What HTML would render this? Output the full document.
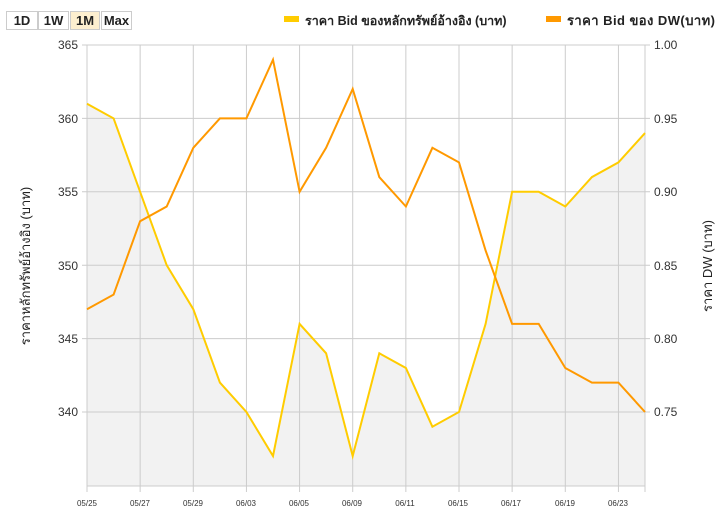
<!DOCTYPE html>
<html><head><meta charset="utf-8"><style>
body{margin:0;background:#fff;width:725px;height:515px;overflow:hidden;font-family:"Liberation Sans","Noto Sans CJK SC",sans-serif}
.btn{position:absolute;top:11px;height:17px;border:1px solid #ccc;background:#fff;font-size:13px;font-weight:bold;text-align:center;line-height:17px;color:#222}
</style></head><body>
<div class="btn" style="left:6px;width:30px">1D</div>
<div class="btn" style="left:38px;width:29px">1W</div>
<div class="btn" style="left:70px;width:28px;background:#fdefcf">1M</div>
<div class="btn" style="left:101px;width:29px">Max</div>
<svg id="s" width="725" height="515" style="position:absolute;left:0;top:0" font-family="Liberation Sans, Noto Sans CJK SC, sans-serif">
<rect x="284" y="16" width="15" height="6" fill="#fc0"/>
<text x="305" y="25" font-size="12.5" font-weight="bold" fill="#222">ราคา Bid ของหลักทรัพย์อ้างอิง (บาท)</text>
<rect x="546" y="16" width="15" height="6" fill="#f90"/>
<text x="567" y="25" font-size="13" font-weight="bold" fill="#222" textLength="148">ราคา Bid ของ DW(บาท)</text>
<g id="g"></g>
<g font-size="12" fill="#333" text-anchor="end">
<text x="78" y="49">365</text><text x="78" y="123">360</text><text x="78" y="196">355</text><text x="78" y="270">350</text><text x="78" y="343">345</text><text x="78" y="416">340</text>
</g>
<g font-size="12" fill="#333">
<text x="654" y="49">1.00</text><text x="654" y="123">0.95</text><text x="654" y="196">0.90</text><text x="654" y="270">0.85</text><text x="654" y="343">0.80</text><text x="654" y="416">0.75</text>
</g>
<g font-size="8" fill="#333" text-anchor="middle">
<text x="87" y="506">05/25</text><text x="140" y="506">05/27</text><text x="193" y="506">05/29</text><text x="246" y="506">06/03</text><text x="299" y="506">06/05</text><text x="352" y="506">06/09</text><text x="405" y="506">06/11</text><text x="458" y="506">06/15</text><text x="511" y="506">06/17</text><text x="565" y="506">06/19</text><text x="618" y="506">06/23</text>
</g>
<text transform="translate(30,266) rotate(-90)" font-size="13" fill="#222" text-anchor="middle">ราคาหลักทรัพย์อ้างอิง (บาท)</text>
<text transform="translate(712,266) rotate(-90)" font-size="13" fill="#222" text-anchor="middle">ราคา DW (บาท)</text>
</svg>
<script>
(function(){
var Y=[361,360,355,350,347,342,340,337,346,344,337,344,343,339,340,346,355,355,354,356,357,359];
var O=[0.82,0.83,0.88,0.89,0.93,0.95,0.95,0.99,0.90,0.93,0.97,0.91,0.89,0.93,0.92,0.86,0.81,0.81,0.78,0.77,0.77,0.75];
var x0=87,dx=(645-87)/21,t0=45,k=367/25;
function yl(v){return t0+(365-v)*k}function yr(v){return t0+(1-v)*k*100}
var NS='http://www.w3.org/2000/svg',g=document.getElementById('g');
function el(n,a){var e=document.createElementNS(NS,n);for(var p in a)e.setAttribute(p,a[p]);g.appendChild(e);}
el('rect',{x:87,y:45,width:558,height:441,fill:'#fff'});
var py=Y.map(function(v,i){return (x0+i*dx).toFixed(1)+','+yl(v).toFixed(1)}).join(' ');
el('polygon',{points:'87,486 '+py+' 645,486',fill:'#f2f2f2'});
for(var v=0;v<6;v++){var y=45+v*73.4;el('line',{x1:82,x2:650,y1:y,y2:y,stroke:'#ccc'});}
for(var i=0;i<22;i+=2){var x=x0+i*dx;el('line',{x1:x,x2:x,y1:45,y2:492,stroke:'#ccc'});}
el('line',{x1:645,x2:645,y1:45,y2:492,stroke:'#ccc'});
el('line',{x1:87,x2:645,y1:486,y2:486,stroke:'#ccc'});
el('polyline',{points:py,fill:'none',stroke:'#fc0','stroke-width':2});
el('polyline',{points:O.map(function(v,i){return (x0+i*dx).toFixed(1)+','+yr(v).toFixed(1)}).join(' '),fill:'none',stroke:'#f90','stroke-width':2});
})();
</script>
</body></html>
